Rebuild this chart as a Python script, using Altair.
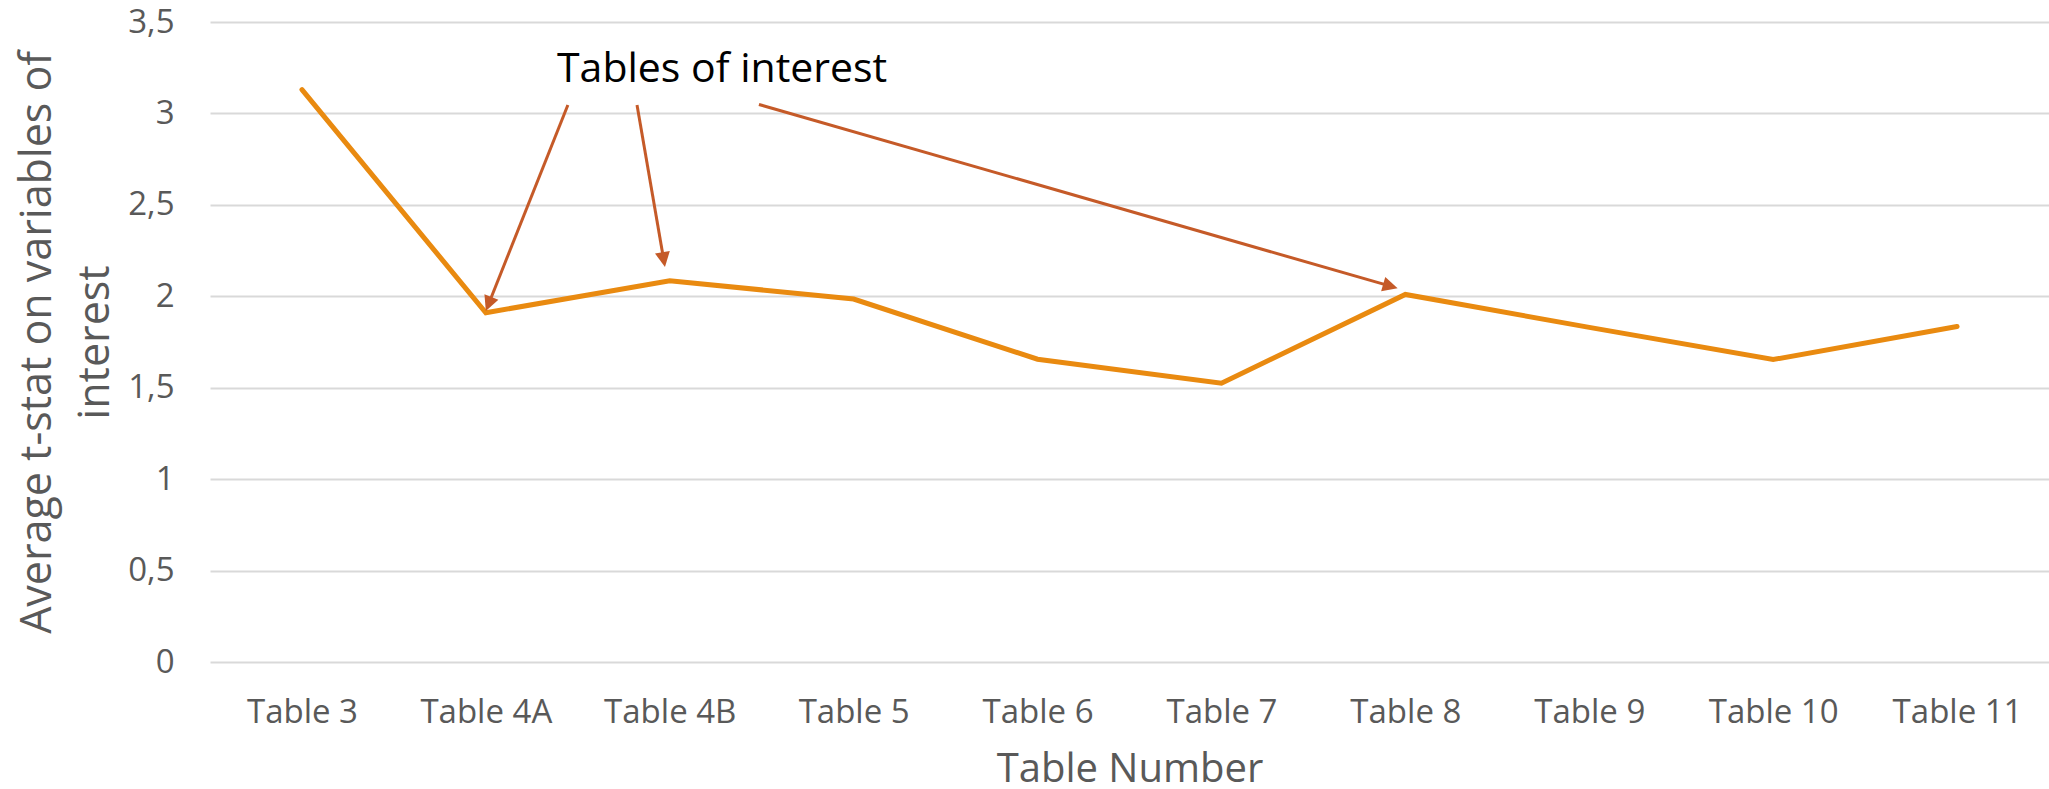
import math
import altair as alt
import pandas as pd

# ---- data ----
categories = ["Table 3", "Table 4A", "Table 4B", "Table 5", "Table 6",
              "Table 7", "Table 8", "Table 9", "Table 10", "Table 11"]
values = [3.13, 1.91, 2.085, 1.985, 1.656, 1.525, 2.01, 1.83, 1.654, 1.835]

y_ticks = [0, 0.5, 1, 1.5, 2, 2.5, 3, 3.5]

annotation_text = ["Tables of interest"]
annotation_x = [1.387]
annotation_y = [3.17]

arrow_x1 = [1.446, 1.822, 2.485]
arrow_y1 = [3.046, 3.046, 3.049]
arrow_x2 = [1.0, 1.974, 5.958]
arrow_y2 = [1.92, 2.16, 2.044]

# ---- layout / style ----
W, H = 1839, 640
PAD = {"left": 210, "top": 22, "right": 0, "bottom": 127}
LINE_COLOR = "#E98A10"
ARROW_COLOR = "#C55A28"
TEXT_GRAY = "#595959"
FONT = "Open Sans"

x_dom = [-0.5, len(categories) - 0.5]
y_dom = [0, 3.5]
px_x = W / (x_dom[1] - x_dom[0])
px_y = H / (y_dom[1] - y_dom[0])

df = pd.DataFrame({"idx": list(range(len(categories))), "cat": categories, "val": values})

# arrows and heads
HEAD_BACK = 7.5
rows = []
for x1, y1, x2, y2 in zip(arrow_x1, arrow_y1, arrow_x2, arrow_y2):
    dxp = (x2 - x1) * px_x
    dyp = -(y2 - y1) * px_y
    ln = math.hypot(dxp, dyp)
    ux, uy = dxp / ln, dyp / ln
    ang = math.degrees(math.atan2(dxp, -dyp)) % 360
    cx = x2 - HEAD_BACK * ux / px_x
    cy = y2 + HEAD_BACK * uy / px_y
    rows.append({"x1": x1, "y1": y1, "x2": cx, "y2": cy, "hx": cx, "hy": cy, "ang": ang})
arrows = pd.DataFrame(rows)

ann = pd.DataFrame({"t": annotation_text, "x": annotation_x, "y": annotation_y})

label_expr = "[" + ",".join("'" + c + "'" for c in categories) + "][datum.value]"

x_scale = alt.Scale(domain=x_dom, nice=False, zero=False)
y_scale = alt.Scale(domain=y_dom, nice=False, zero=False)

x_axis = alt.Axis(
    values=list(range(len(categories))), labelExpr=label_expr,
    grid=False, domain=False, ticks=False, tickSize=0,
    labelFont=FONT, labelFontSize=33, labelColor=TEXT_GRAY,
    labelPadding=60, labelBaseline="alphabetic",
    title="Table Number", titleFont=FONT, titleFontSize=40,
    titleFontWeight="normal", titleColor=TEXT_GRAY,
    titleBaseline="alphabetic", titleY=119, titleX=W / 2, titleAlign="center",
)
y_axis = alt.Axis(
    values=y_ticks, labelExpr="replace(toString(datum.value), '.', ',')",
    grid=True, gridColor="#D9D9D9", gridWidth=2,
    domain=False, ticks=False, tickSize=0,
    labelFont=FONT, labelFontSize=33, labelColor=TEXT_GRAY, labelPadding=36,
    title=["Average t-stat on variables of", "interest"],
    titleFont=FONT, titleFontSize=43, titleFontWeight="normal", titleColor=TEXT_GRAY,
    titleAngle=270, titleLineHeight=58, titleBaseline="alphabetic",
    titleAlign="center", titleX=-160, titleY=H / 2,
)

line = alt.Chart(df).mark_line(color=LINE_COLOR, strokeWidth=5, strokeCap="round").encode(
    x=alt.X("idx:Q", scale=x_scale, axis=x_axis),
    y=alt.Y("val:Q", scale=y_scale, axis=y_axis),
)

rules = alt.Chart(arrows).mark_rule(color=ARROW_COLOR, strokeWidth=3).encode(
    x=alt.X("x1:Q", scale=x_scale), y=alt.Y("y1:Q", scale=y_scale),
    x2="x2:Q", y2="y2:Q",
)

heads = alt.Chart(arrows).mark_point(
    shape="M0,-1L-1,1L1,1Z", filled=True, color=ARROW_COLOR,
    opacity=1, size=225, strokeWidth=0,
).encode(
    x=alt.X("hx:Q", scale=x_scale), y=alt.Y("hy:Q", scale=y_scale),
    angle=alt.Angle("ang:Q", scale=None),
)

text = alt.Chart(ann).mark_text(
    align="left", baseline="alphabetic", font=FONT, fontSize=41, color="#000000",
).encode(
    x=alt.X("x:Q", scale=x_scale), y=alt.Y("y:Q", scale=y_scale), text="t:N",
)

chart = alt.layer(line, rules, heads, text).properties(
    width=W, height=H,
    autosize=alt.AutoSizeParams(type="none"),
    padding=PAD,
    background="white",
).configure_view(stroke=None)

chart.save("out.html", embed_options={"renderer": "svg", "actions": False})
